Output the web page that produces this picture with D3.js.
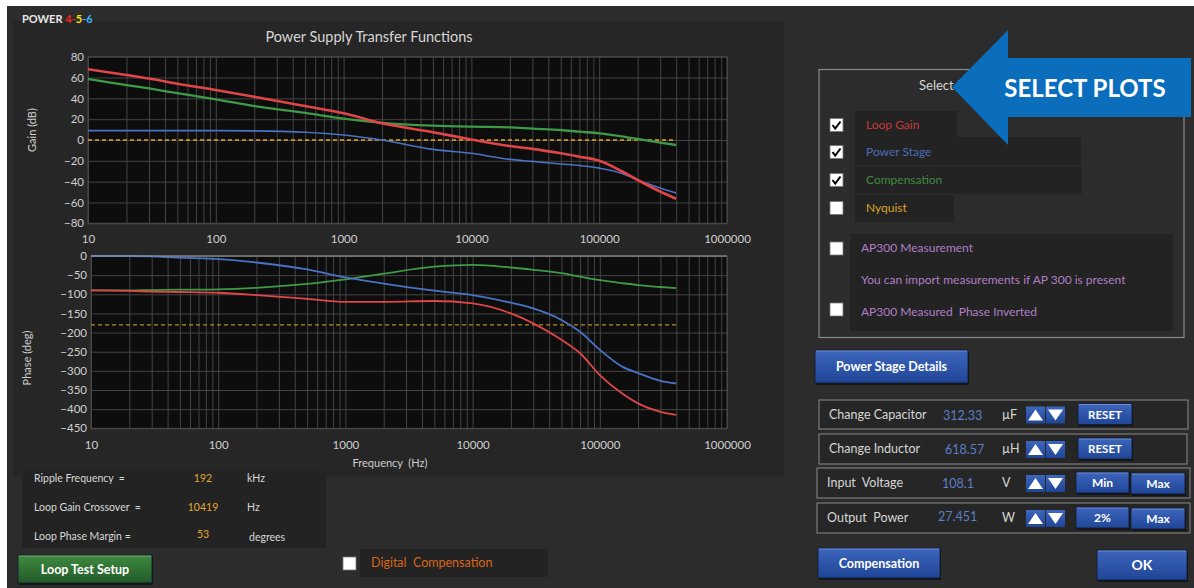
<!DOCTYPE html>
<html><head><meta charset="utf-8">
<script src="https://cdn.jsdelivr.net/npm/d3@7"></script>
<style>
html,body{margin:0;padding:0;background:#fff;}
svg{display:block;font-family:Lato,'Open Sans',sans-serif;}
svg text{white-space:pre;}
</style></head>
<body>
<svg id="c" width="1194" height="588"></svg>
<script>
// ---- data ----
const freqs = [10,20,30,50,100,200,500,1000,2000,5000,10000,20000,30000,50000,70000,100000,150000,200000,300000,400000];
const gainLoop  = [68,62.5,59,54,48,41.6,32.6,25.6,16,7.5,0.5,-5.8,-8.5,-12.8,-16,-20,-30,-38.4,-49.5,-56.5];
const gainPower = [9,9,9,9,9,8.8,7.5,4.8,0,-9,-12.8,-18.6,-20.5,-23,-24.5,-27,-32,-38.4,-46,-51];
const gainComp  = [58.6,52.8,49.5,45,39,32.6,26,20.5,16.5,13.8,12.8,12.2,11,9.6,8,6.4,3.5,1,-2.5,-4.8];
const phaseLoop  = [-90,-91,-93,-94,-96,-102,-112,-120,-120,-117.5,-124,-150,-176,-219,-254,-311,-359,-385,-407,-415];
const phasePower = [0,0,-1,-4.4,-8,-17,-35,-56,-72,-90.5,-102,-122,-137,-167,-198,-245,-289,-306,-326,-333];
const phaseComp  = [-90,-90,-89,-88,-87,-83,-73,-61,-46,-28,-23,-30,-36,-45,-54,-63,-71,-76,-81,-84];
const freqTicks = [10,100,1000,10000,100000,1000000];
const gainTicks = [-80,-60,-40,-20,0,20,40,60,80];
const phaseTicks = [0,-50,-100,-150,-200,-250,-300,-350,-400,-450];
const gainRef = 0, phaseRef = -180;
const stats = [["Ripple Frequency  =","192","kHz"],["Loop Gain Crossover  =","10419","Hz"],["Loop Phase Margin =","53","degrees"]];
const plotOptions = [["Loop Gain","#c8393b",true],["Power Stage","#4a6db3",true],["Compensation","#3f8a3f",true],["Nyquist","#d9a521",false]];
const params = [["Change Capacitor","312.33","µF","RESET",null],["Change Inductor","618.57","µH","RESET",null],["Input  Voltage","108.1","V","Min","Max"],["Output  Power","27.451","W","2%","Max"]];

const svg = d3.select("#c");
const defs = svg.append("defs");
function grad(id, c1, c2){
  const g = defs.append("linearGradient").attr("id",id).attr("x1",0).attr("x2",0).attr("y1",0).attr("y2",1);
  g.append("stop").attr("offset","0%").attr("stop-color",c1);
  g.append("stop").attr("offset","100%").attr("stop-color",c2);
}
grad("gblue","#3d66bd","#1f4596");
grad("ggreen","#3f8a3f","#23592a");

// background
svg.append("rect").attr("x",7).attr("y",6).attr("width",1187).attr("height",582).attr("fill","#2c2c2c");
// chart panel
svg.append("rect").attr("x",13).attr("y",21).attr("width",771).attr("height",456).attr("fill","#262626");
svg.append("rect").attr("x",22).attr("y",470).attr("width",304).attr("height",78).attr("fill","#232323");

// POWER 4-5-6
const pt = svg.append("text").attr("x",22).attr("y",23).attr("font-size",11).attr("font-weight","bold").attr("fill","#e8e8e8");
pt.append("tspan").text("POWER ");
pt.append("tspan").attr("fill","#ff2020").text("4-");
pt.append("tspan").attr("fill","#f2e600").text("5");
pt.append("tspan").attr("fill","#38b6ff").text("-6");

svg.append("text").attr("x",369).attr("y",42).attr("text-anchor","middle").attr("font-size",14.5).attr("fill","#d6d6d6").text("Power Supply Transfer Functions");

// ---- scales ----
const xG = d3.scaleLog().domain([10,1e6]).range([88,727]);
const xP = d3.scaleLog().domain([10,1e6]).range([91,727]);
const yG = d3.scaleLinear().domain([-80,80]).range([223.3,56.7]);
const yP = d3.scaleLinear().domain([-450,0]).range([428.3,256]);

function plot(x, y, yTicks, series, ref, refColor, xLabOff){
  const [x0,x1] = x.range(), [y0,y1] = y.range();
  svg.append("rect").attr("x",x0).attr("y",y1).attr("width",x1-x0).attr("height",y0-y1).attr("fill","#0d0d0d");
  // vertical grid
  svg.append("g").attr("transform",`translate(0,${y0})`)
    .call(d3.axisBottom(x).tickValues(x.ticks()).tickSize(-(y0-y1)).tickFormat(""))
    .call(g=>{g.select(".domain").remove(); g.selectAll("line").attr("stroke","#444").attr("stroke-width",1);});
  // horizontal grid
  svg.append("g").attr("transform",`translate(${x0},0)`)
    .call(d3.axisLeft(y).tickValues(yTicks).tickSize(-(x1-x0)).tickFormat(""))
    .call(g=>{g.select(".domain").remove(); g.selectAll("line").attr("stroke","#444").attr("stroke-width",1);});
  svg.append("rect").attr("x",x0).attr("y",y1).attr("width",x1-x0).attr("height",y0-y1).attr("fill","none").attr("stroke","#4a4a4a");
  // y labels
  svg.append("g").attr("transform",`translate(${x0-4},0)`)
    .call(d3.axisLeft(y).tickValues(yTicks).tickSize(0).tickPadding(0).tickFormat(d3.format("d")))
    .call(g=>{g.select(".domain").remove(); g.selectAll("text").attr("fill","#cfcfcf").attr("font-size",11.5).attr("font-family","Lato,sans-serif");});
  // x labels
  svg.append("g").attr("transform",`translate(0,${y0+xLabOff})`)
    .call(d3.axisBottom(x).tickValues(freqTicks).tickSize(0).tickPadding(0).tickFormat(d3.format("d")))
    .call(g=>{g.select(".domain").remove(); g.selectAll("text").attr("fill","#cfcfcf").attr("font-size",11.5).attr("font-family","Lato,sans-serif");});
  // reference dashed line
  svg.append("line").attr("x1",x0).attr("x2",x(freqs[freqs.length-1])).attr("y1",y(ref)).attr("y2",y(ref))
    .attr("stroke",refColor).attr("stroke-width",1.3).attr("stroke-dasharray","4,3");
  const line = d3.line().x((d,i)=>x(freqs[i])).y(d=>y(d)).curve(d3.curveMonotoneX);
  series.forEach(s=>{
    svg.append("path").datum(s.v).attr("d",line).attr("fill","none").attr("stroke",s.c).attr("stroke-width",s.w).attr("stroke-linejoin","round");
  });
}
plot(xG,yG,gainTicks,[
  {v:gainPower,c:"#4a72c4",w:1.6},
  {v:gainComp,c:"#3f9a47",w:2.3},
  {v:gainLoop,c:"#e04547",w:2.6}],gainRef,"#e6a21e",12);
plot(xP,yP,phaseTicks,[
  {v:phaseComp,c:"#3f9a47",w:1.8},
  {v:phasePower,c:"#4a72c4",w:1.8},
  {v:phaseLoop,c:"#e04547",w:1.8}],phaseRef,"#b58c22",13);
// phase top axis line
svg.append("line").attr("x1",91).attr("x2",727).attr("y1",256).attr("y2",256).attr("stroke","#9a9a9a");

svg.append("text").attr("transform","translate(36,130) rotate(-90)").attr("text-anchor","middle").attr("font-size",11).attr("fill","#cfcfcf").text("Gain (dB)");
svg.append("text").attr("transform","translate(31,358) rotate(-90)").attr("text-anchor","middle").attr("font-size",11).attr("fill","#cfcfcf").text("Phase (deg)");
svg.append("text").attr("x",390).attr("y",467).attr("text-anchor","middle").attr("font-size",11).attr("fill","#cfcfcf").text("Frequency  (Hz)");

// stats
const statY = [482,511,540];
stats.forEach((s,i)=>{
  svg.append("text").attr("x",34).attr("y",statY[i]).attr("font-size",10.5).attr("fill","#d8d8d8").text(s[0]);
  svg.append("text").attr("x",203).attr("y",statY[i]-(i==2?2:0)).attr("text-anchor","middle").attr("font-size",10.5).attr("fill","#e0a830").text(s[1]);
  svg.append("text").attr("x",i==2?249:247).attr("y",statY[i]+(i==2?1:0)).attr("font-size",10.5).attr("fill","#d8d8d8").text(s[2]);
});

function button(x,y,w,h,label,fill,fs){
  svg.append("rect").attr("x",x+1).attr("y",y+2).attr("width",w).attr("height",h).attr("fill","#151515");
  svg.append("rect").attr("x",x).attr("y",y).attr("width",w).attr("height",h).attr("fill",fill).attr("stroke","#101a30").attr("stroke-width",0.8);
  svg.append("line").attr("x1",x+1).attr("x2",x+w-1).attr("y1",y+1).attr("y2",y+1).attr("stroke","#ffffff").attr("stroke-opacity",0.25);
  svg.append("text").attr("x",x+w/2).attr("y",y+h/2+4.5).attr("text-anchor","middle").attr("font-size",fs||12.5).attr("font-weight","bold").attr("fill","#ffffff").text(label);
}
button(18,555,134,28,"Loop Test Setup","url(#ggreen)",12.5);

function checkbox(x,y,checked){
  svg.append("rect").attr("x",x).attr("y",y).attr("width",13).attr("height",13).attr("fill","#ffffff").attr("stroke","#777").attr("stroke-width",0.8);
  if(checked) svg.append("path").attr("d",`M${x+2.5},${y+6.5} L${x+5.2},${y+10} L${x+10.5},${y+3}`).attr("fill","none").attr("stroke","#000").attr("stroke-width",2);
}
checkbox(343,557,false);
svg.append("rect").attr("x",360).attr("y",549).attr("width",188).attr("height",28).attr("fill","#232323");
svg.append("text").attr("x",371).attr("y",567).attr("font-size",12.5).attr("fill","#d9661a").text("Digital  Compensation");

// Select plots box
svg.append("rect").attr("x",819).attr("y",69.5).attr("width",365).attr("height",268).attr("fill","none").attr("stroke","#8a8a8a").attr("stroke-width",1.2);
svg.append("text").attr("x",919).attr("y",90).attr("font-size",13).attr("fill","#d6d6d6").text("Select Plots");
const optBox = [[855,111,102,26],[855,137,226,28],[855,166,227,28],[855,195,99,27]];
const optY = [125,152,180,208];
plotOptions.forEach((o,i)=>{
  const b = optBox[i];
  svg.append("rect").attr("x",b[0]).attr("y",b[1]).attr("width",b[2]).attr("height",b[3]).attr("fill","#232323");
  checkbox(830,optY[i]-6.5,o[2]);
  svg.append("text").attr("x",866).attr("y",optY[i]+4).attr("font-size",12).attr("fill",o[1]).text(o[0]);
});
svg.append("rect").attr("x",850).attr("y",234).attr("width",323).attr("height",97).attr("fill","#232323");
checkbox(830,242,false);
checkbox(830,303,false);
svg.append("text").attr("x",861).attr("y",252).attr("font-size",12).attr("fill","#b07fc4").text("AP300 Measurement");
svg.append("text").attr("x",861).attr("y",284).attr("font-size",12).attr("fill","#b07fc4").text("You can import measurements if AP 300 is present");
svg.append("text").attr("x",861).attr("y",316).attr("font-size",12).attr("fill","#b07fc4").text("AP300 Measured  Phase Inverted");

// arrow
svg.append("path").attr("d","M952,87 L1008,30 L1008,58 L1191,58 L1191,117 L1008,117 L1008,145 Z").attr("fill","#0a6ebd");
svg.append("text").attr("x",1085).attr("y",97).attr("text-anchor","middle").attr("font-size",24).attr("font-weight","bold").attr("fill","#ffffff").text("SELECT PLOTS");

button(815,350,153,33,"Power Stage Details","url(#gblue)",12.5);

const rowBox = [[819,400,369,29],[819,434,368,30],[817,468,373,30],[817,503,373,30]];
params.forEach((p,i)=>{
  const b = rowBox[i], cy = b[1]+b[3]/2;
  svg.append("rect").attr("x",b[0]).attr("y",b[1]).attr("width",b[2]).attr("height",b[3]).attr("fill","#262626").attr("stroke","#8a8a8a").attr("stroke-width",1);
  svg.append("text").attr("x",b[0]+10).attr("y",cy+4).attr("font-size",12.5).attr("fill","#d6d6d6").text(p[0]);
  svg.append("text").attr("x",[943,945,942,938][i]).attr("y",cy+5-(i==3?2:0)).attr("font-size",12.5).attr("fill","#5b7fc6").text(p[1]);
  svg.append("text").attr("x",1002).attr("y",cy+4).attr("font-size",12.5).attr("fill","#d6d6d6").text(p[2]);
  // up/down
  const ay = cy-8;
  svg.append("rect").attr("x",1026).attr("y",ay).attr("width",19).attr("height",17).attr("fill","url(#gblue)");
  svg.append("rect").attr("x",1046).attr("y",ay).attr("width",19).attr("height",17).attr("fill","url(#gblue)");
  svg.append("path").attr("d",`M1028,${ay+14} L1035.5,${ay+3} L1043,${ay+14} Z`).attr("fill","#fff");
  svg.append("path").attr("d",`M1048,${ay+3} L1055.5,${ay+14} L1063,${ay+3} Z`).attr("fill","#fff");
  if(p[4]===null){
    button(1078,cy-11,54,21,p[3],"url(#gblue)",11.5);
  } else {
    button(1076,cy-11,53,21,p[3],"url(#gblue)",12);
    button(1131,cy-10,54,21,p[4],"url(#gblue)",12);
  }
});
button(818,548,122,30,"Compensation","url(#gblue)",12.5);
button(1097,550,90,30,"OK","url(#gblue)",14);
</script>
</body></html>
